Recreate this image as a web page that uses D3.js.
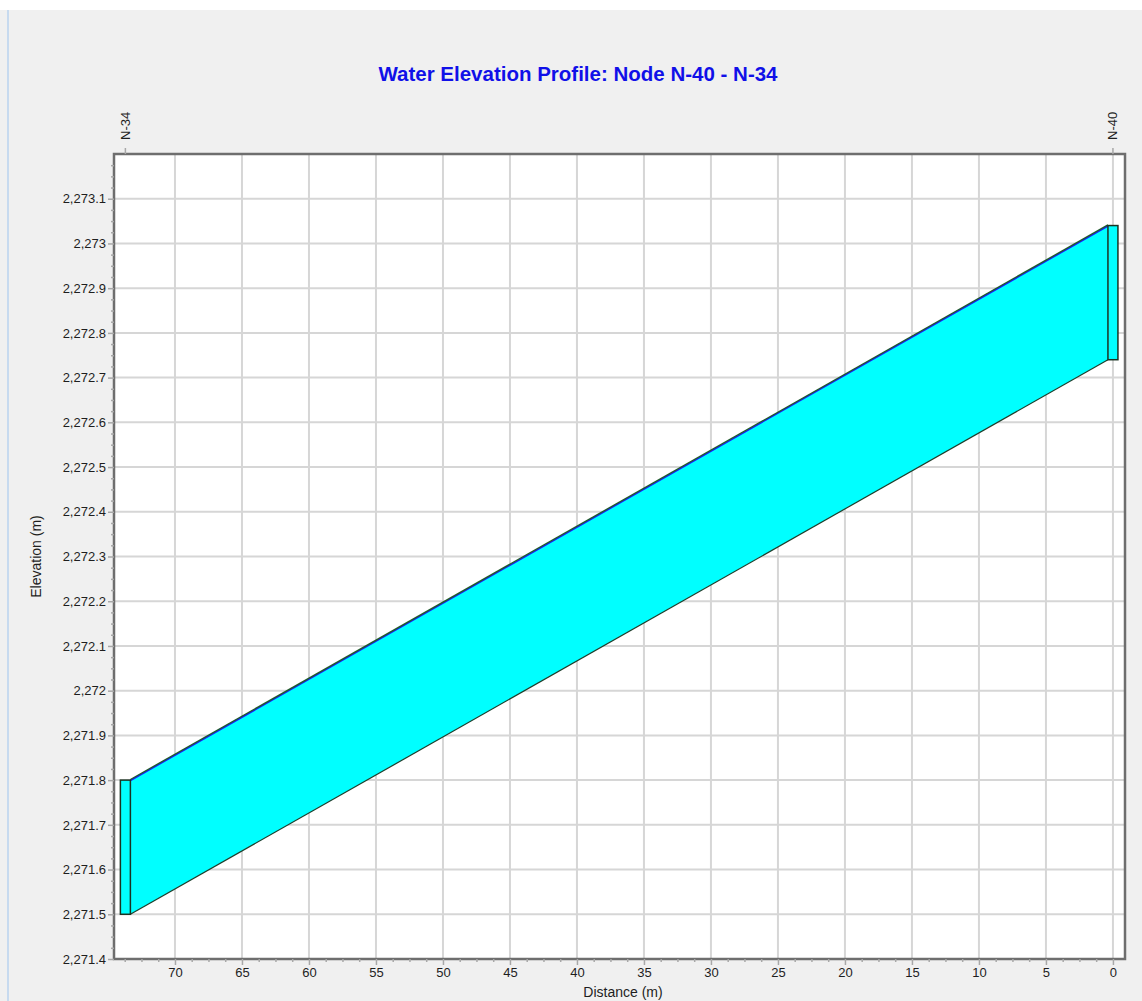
<!DOCTYPE html>
<html>
<head>
<meta charset="utf-8">
<script src="https://cdn.jsdelivr.net/npm/d3@7"></script>
<style>
  body { margin: 0; background: #fff; }
  text { font-family: Arial, "Liberation Sans", sans-serif; }
</style>
</head>
<body>
<svg id="chart" width="1142" height="1001"></svg>
<script>
// node positions along the profile (distance from N-40, m)
const nodeNames = ["N-34", "N-40"];
const nodeDistance = [73.7, 0];
const topElevation = [2271.80, 2273.04];
const bottomElevation = [2271.50, 2272.74];

const xTicks = [70, 65, 60, 55, 50, 45, 40, 35, 30, 25, 20, 15, 10, 5, 0];
const yTicks = [2271.4, 2271.5, 2271.6, 2271.7, 2271.8, 2271.9, 2272, 2272.1, 2272.2,
                2272.3, 2272.4, 2272.5, 2272.6, 2272.7, 2272.8, 2272.9, 2273, 2273.1];

const title = "Water Elevation Profile: Node N-40 - N-34";

const svg = d3.select("#chart");
const W = 1142, H = 1001;
const padding = {top: 154, right: 17, bottom: 42, left: 114};
const innerW = W - padding.left - padding.right;
const innerH = H - padding.top - padding.bottom;

// backdrop
svg.append("rect").attr("x", 0).attr("y", 10).attr("width", W).attr("height", H - 10).attr("fill", "#f0f0f0");
svg.append("rect").attr("x", 7).attr("y", 10).attr("width", 2).attr("height", H - 10).attr("fill", "#c7daef");

const x = d3.scaleLinear().domain([74.55, -0.9]).range([0, innerW]);
const y = d3.scaleLinear().domain([2271.4, 2273.2]).range([innerH, 0]);

const g = svg.append("g").attr("transform", `translate(${padding.left},${padding.top})`);

g.append("rect").attr("width", innerW).attr("height", innerH).attr("fill", "#fff");

// grid
g.selectAll(".vgrid").data(xTicks).enter().append("line")
    .attr("x1", d => x(d)).attr("x2", d => x(d))
    .attr("y1", 0).attr("y2", innerH)
    .attr("stroke", "#d6d6d6").attr("stroke-width", 2);
g.selectAll(".hgrid").data(yTicks).enter().append("line")
    .attr("y1", d => y(d)).attr("y2", d => y(d))
    .attr("x1", 0).attr("x2", innerW)
    .attr("stroke", "#d6d6d6").attr("stroke-width", 2);

// water band between the nodes
const bar = 10;
const xs = nodeDistance.map(d => x(d));
const poly = [
    [xs[0] + bar / 2, y(topElevation[0])],
    [xs[1] - bar / 2, y(topElevation[1])],
    [xs[1] - bar / 2, y(bottomElevation[1])],
    [xs[0] + bar / 2, y(bottomElevation[0])]
];
g.append("path").attr("d", "M" + poly.join("L") + "Z").attr("fill", "#00ffff");
g.append("line")
    .attr("x1", poly[0][0]).attr("y1", poly[0][1] + 0.4).attr("x2", poly[1][0]).attr("y2", poly[1][1] + 0.4)
    .attr("stroke", "#1a1aff").attr("stroke-width", 1.6);
g.append("line")
    .attr("x1", poly[0][0]).attr("y1", poly[0][1] - 0.6).attr("x2", poly[1][0]).attr("y2", poly[1][1] - 0.6)
    .attr("stroke", "#1f5a2c").attr("stroke-width", 1.4);
g.append("line")
    .attr("x1", poly[3][0]).attr("y1", poly[3][1]).attr("x2", poly[2][0]).attr("y2", poly[2][1])
    .attr("stroke", "#1f3d2a").attr("stroke-width", 1.2);

// node bars
nodeDistance.forEach((d, i) => {
    g.append("rect")
        .attr("x", x(d) - bar / 2).attr("width", bar)
        .attr("y", y(topElevation[i]))
        .attr("height", y(bottomElevation[i]) - y(topElevation[i]))
        .attr("fill", "#00ffff").attr("stroke", "#1b3322").attr("stroke-width", 1.5);
});

// frame
g.append("rect").attr("width", innerW).attr("height", innerH)
    .attr("fill", "none").attr("stroke", "#6e6e6e").attr("stroke-width", 2.5);

// axes
const fmt = d3.format(",");
g.append("g").attr("class", "axis y")
    .call(d3.axisLeft(y).tickValues(yTicks).tickFormat(fmt).tickSize(6).tickPadding(2));
g.append("g").attr("class", "axis x").attr("transform", `translate(0,${innerH})`)
    .call(d3.axisBottom(x).tickValues(xTicks).tickSize(6).tickPadding(3));

// minor ticks
const yMinor = d3.range(2271.4, 2273.2001, 0.025).filter(v => Math.abs(v * 10 - Math.round(v * 10)) > 0.01);
const xMinor = d3.range(0, 74.5, 1.25).filter(v => Math.abs(v / 5 - Math.round(v / 5)) > 0.01);
g.append("g").attr("class", "axis yminor")
    .call(d3.axisLeft(y).tickValues(yMinor).tickFormat("").tickSize(3));
g.append("g").attr("class", "axis xminor").attr("transform", `translate(0,${innerH})`)
    .call(d3.axisBottom(x).tickValues(xMinor).tickFormat("").tickSize(3));

g.selectAll(".axis .domain").remove();
g.selectAll(".axis line").attr("stroke", "#a8a8a8").attr("stroke-width", 1.5);
g.selectAll(".axis text").attr("fill", "#1e1e1e").style("font-size", "13px")
    .style("font-family", "Arial, 'Liberation Sans', sans-serif");

// node labels above the plot
nodeDistance.forEach((d, i) => {
    g.append("line").attr("x1", x(d)).attr("x2", x(d)).attr("y1", -6).attr("y2", 0)
        .attr("stroke", "#a8a8a8").attr("stroke-width", 1.5);
    g.append("text")
        .attr("transform", `translate(${x(d) + 4.5},-14)rotate(-90)`)
        .attr("text-anchor", "start")
        .attr("fill", "#1e1e1e").style("font-size", "13px")
        .text(nodeNames[i]);
});

// titles
svg.append("text").attr("x", 578).attr("y", 81).attr("text-anchor", "middle")
    .attr("fill", "#1010e8").style("font-size", "20.5px").style("font-weight", "bold")
    .text(title);
svg.append("text").attr("x", 623).attr("y", 997).attr("text-anchor", "middle")
    .attr("fill", "#1e1e1e").style("font-size", "14px").text("Distance (m)");
svg.append("text").attr("transform", `translate(41,${padding.top + innerH / 2})rotate(-90)`)
    .attr("text-anchor", "middle")
    .attr("fill", "#1e1e1e").style("font-size", "14px").text("Elevation (m)");
</script>
</body>
</html>
